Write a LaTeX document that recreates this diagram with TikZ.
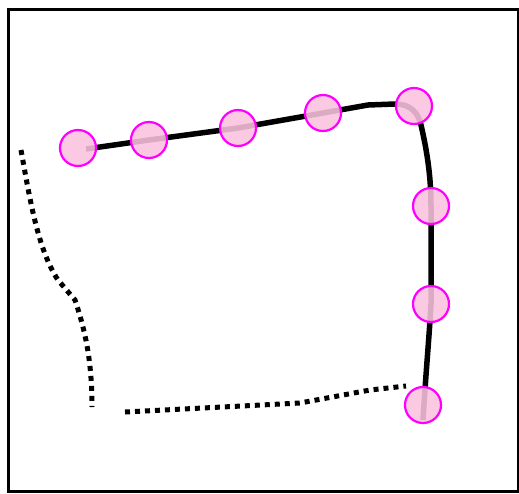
\documentclass[tikz,border=0pt]{standalone}
\definecolor{mag}{RGB}{255,0,255}
\definecolor{pfill}{RGB}{250,195,222}
\begin{document}
\begin{tikzpicture}[x=1pt,y=-1pt,
  pt/.style={circle,draw=mag,line width=2.2pt,fill=pfill,fill opacity=0.88,minimum size=36pt,inner sep=0pt},
  track/.style={line width=5.5pt,line join=round},
  dots/.style={line width=5pt,dash pattern=on 5pt off 5pt}]
\useasboundingbox (0,0) rectangle (519,493);
\draw[line width=3pt] (8.5,9.5) rectangle (518,491);
% track under circles
\coordinate (s) at (86,149);
\coordinate (e) at (423,420);
\draw[track] (s) -- (149,140) -- (238,128) -- (323,113) -- (368,105) -- (395,104)
  .. controls (410,104) and (418,112) .. (421,125)
  .. controls (428,155) and (431,180) .. (431,206)
  -- (431,260) -- (431,304) .. controls (429,340) and (426,370) .. (e);
\node[pt] (p1) at (78,148) {};
\node[pt] (p2) at (149,140) {};
\node[pt] (p3) at (238,128) {};
\node[pt] (p4) at (323,113) {};
\node[pt] (p5) at (414,106) {};
\node[pt] (p6) at (431,206) {};
\node[pt] (p7) at (431,304) {};
\node[pt] (p8) at (423,405) {};
% dotted lines
\coordinate (d1) at (21,150);
\coordinate (d2) at (92,407);
\draw[dots] (d1) .. controls (30,200) and (38,250) .. (58,280)
  -- (75,300) .. controls (85,330) and (92,360) .. (d2);
\coordinate (d3) at (125,412);
\coordinate (d4) at (406,386);
\draw[dots] (d3) -- (300,403) -- (370,390) -- (d4);
\end{tikzpicture}
\end{document}
